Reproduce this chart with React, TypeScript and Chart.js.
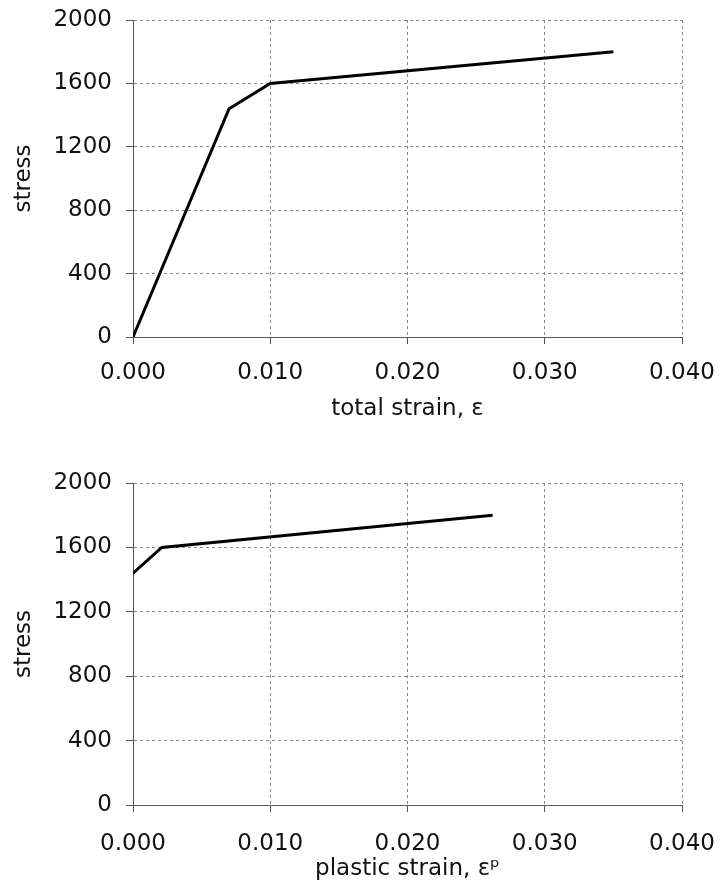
import React, { useEffect, useRef } from 'react';
import { Chart, registerables } from 'chart.js';

Chart.register(...registerables);

// ---- data ----
const totalStrain = [0, 0.007, 0.01, 0.035];
const totalStress = [0, 1440, 1600, 1800];

const plasticStrain = [0, 0.0021, 0.0262];
const plasticStress = [1440, 1600, 1800];

const strainMin = 0;
const strainMax = 0.04;
const strainStep = 0.01;
const stressMin = 0;
const stressMax = 2000;
const stressStep = 400;

const FONT = "'DejaVu Sans', Verdana, sans-serif";

type Geom = {
  height: number;
  padTop: number;
  padBottom: number;
  xScaleHeight: number;
  xTickPad: number;
};

function makeConfig(xs: number[], ys: number[], xTitle: string, g: Geom): any {
  const pts = xs.map((x, i) => ({ x, y: ys[i] }));
  return {
    type: 'line',
    data: {
      datasets: [
        {
          data: pts,
          borderColor: '#000',
          borderWidth: 3,
          pointRadius: 0,
          tension: 0,
          fill: false,
        },
      ],
    },
    options: {
      animation: false,
      responsive: false,
      layout: { padding: { left: 0, right: 41, top: g.padTop, bottom: g.padBottom } },
      plugins: { legend: { display: false }, tooltip: { enabled: false } },
      scales: {
        x: {
          type: 'linear',
          min: strainMin,
          max: strainMax,
          afterFit: (s: any) => {
            s.height = g.xScaleHeight;
            s.paddingLeft = 0;
            s.paddingRight = 0;
          },
          ticks: {
            stepSize: strainStep,
            padding: g.xTickPad,
            color: '#111',
            font: { family: FONT, size: 23 },
            callback: (v: any) => Number(v).toFixed(3),
          },
          grid: { color: '#888', tickColor: '#555', tickLength: 7, lineWidth: 1 },
          border: { display: true, color: '#555', width: 1, dash: [3, 3] },
          title: {
            display: true,
            text: xTitle,
            color: '#111',
            font: { family: FONT, size: 23 },
            padding: { top: 0, bottom: 0 },
          },
        },
        y: {
          type: 'linear',
          min: stressMin,
          max: stressMax,
          afterFit: (s: any) => {
            s.width = 133;
            s.paddingTop = 0;
            s.paddingBottom = 0;
          },
          ticks: {
            stepSize: stressStep,
            padding: 14,
            color: '#111',
            font: { family: FONT, size: 23 },
            callback: (v: any) => String(v),
          },
          grid: { color: '#888', tickColor: '#555', tickLength: 7, lineWidth: 1 },
          border: { display: true, color: '#555', width: 1, dash: [3, 3] },
          title: {
            display: true,
            text: 'stress',
            color: '#111',
            font: { family: FONT, size: 23 },
            padding: { top: 10, bottom: 0 },
          },
        },
      },
    },
  };
}

function ChartBox({ xs, ys, xTitle, g }: { xs: number[]; ys: number[]; xTitle: string; g: Geom }) {
  const ref = useRef<HTMLCanvasElement | null>(null);
  useEffect(() => {
    if (!ref.current) return;
    const chart = new Chart(ref.current, makeConfig(xs, ys, xTitle, g));
    return () => chart.destroy();
  }, []);
  return <canvas ref={ref} width={723} height={g.height} style={{ display: 'block', width: 723, height: g.height }} />;
}

export default function App() {
  return (
    <div style={{ position: 'absolute', left: 0, top: 0, width: 723, height: 891, background: '#fff', overflow: 'hidden' }}>
      <ChartBox
        xs={totalStrain}
        ys={totalStress}
        xTitle="total strain, ε"
        g={{ height: 445, padTop: 20, padBottom: 22, xScaleHeight: 86, xTickPad: 15 }}
      />
      <ChartBox
        xs={plasticStrain}
        ys={plasticStress}
        xTitle="plastic strain, εᵖ"
        g={{ height: 446, padTop: 38, padBottom: 8, xScaleHeight: 78, xTickPad: 18 }}
      />
    </div>
  );
}
